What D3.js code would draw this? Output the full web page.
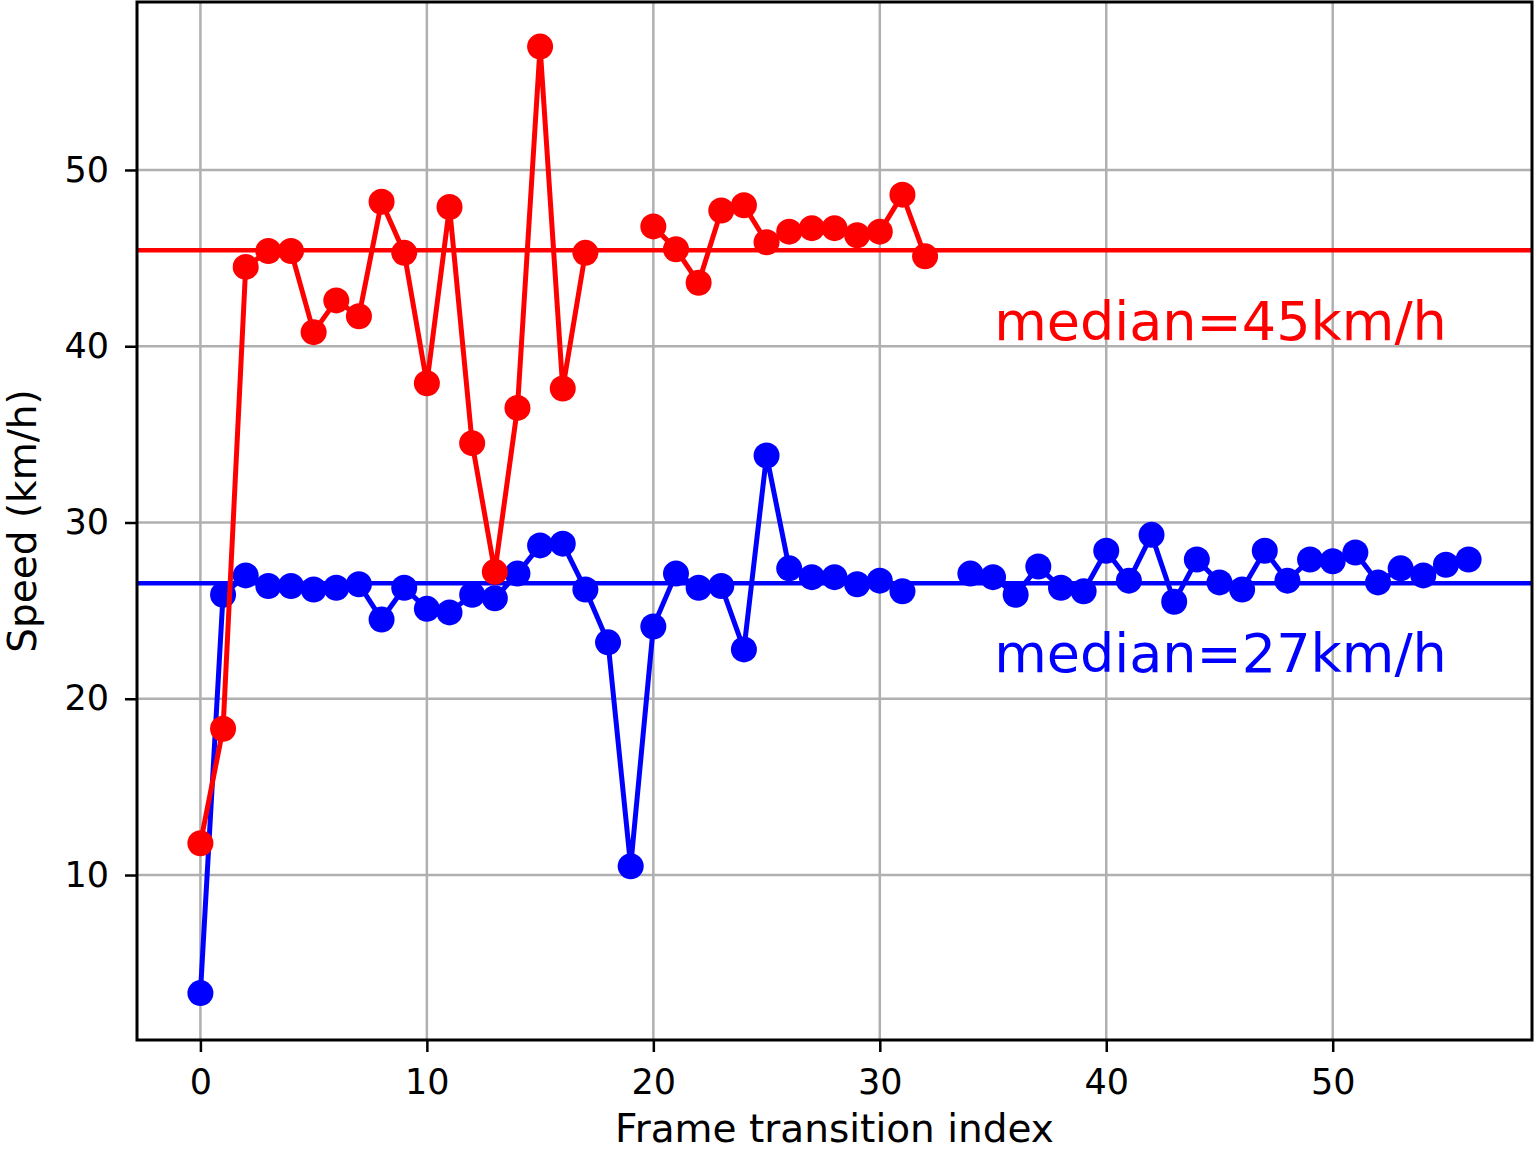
<!DOCTYPE html>
<html>
<head>
<meta charset="utf-8">
<script src="https://cdn.jsdelivr.net/npm/d3@7"></script>
<style>
  body { margin: 0; background: #fff; }
  text { font-family: "DejaVu Sans", sans-serif; }
</style>
</head>
<body>
<div id="chart"></div>
<script>
// speeds per frame transition, null = no measurement
var redSpeeds = [11.8, 18.3, 44.5, 45.4, 45.4, 40.8, 42.6, 41.7, 48.2, 45.3,
                 37.9, 47.9, 34.5, 27.2, 36.5, 57.0, 37.6, 45.3, null, null,
                 46.8, 45.5, 43.6, 47.7, 48.0, 45.9, 46.5, 46.7, 46.7, 46.3,
                 46.5, 48.6, 45.1];
var blueSpeeds = [3.3, 25.9, 27.0, 26.4, 26.4, 26.2, 26.3, 26.5, 24.5, 26.3,
                  25.1, 24.9, 25.9, 25.7, 27.1, 28.7, 28.8, 26.2, 23.2, 10.5,
                  24.1, 27.1, 26.3, 26.4, 22.8, 33.8, 27.4, 26.9, 26.9, 26.5,
                  26.7, 26.1, null, null, 27.1, 26.9, 25.9, 27.5, 26.3, 26.1,
                  28.4, 26.7, 29.3, 25.5, 27.9, 26.6, 26.2, 28.4, 26.7, 27.9,
                  27.8, 28.3, 26.6, 27.4, 27.0, 27.6, 27.9];
var redMedian = 45.45, blueMedian = 26.55;
var medianLabels = ["median=45km/h", "median=27km/h"];
var xTicks = [0, 10, 20, 30, 40, 50];
var yTicks = [10, 20, 30, 40, 50];

var W = 1534, H = 1152;
var margin = {top: 2, right: 2, bottom: 112, left: 137};
var width = W - margin.left - margin.right,
    height = H - margin.top - margin.bottom;

var svg = d3.select("#chart").append("svg")
    .attr("width", W).attr("height", H)
    .style("background", "#fff");

var g = svg.append("g")
    .attr("transform", "translate(" + margin.left + "," + margin.top + ")");

var x = d3.scaleLinear().domain([-2.8, 58.8]).range([0, width]);
var y = d3.scaleLinear().domain([0.64, 59.53]).range([height, 0]);

// grid
g.append("g").selectAll("line").data(xTicks).enter().append("line")
    .attr("x1", d => x(d)).attr("x2", d => x(d))
    .attr("y1", 0).attr("y2", height)
    .attr("stroke", "#b0b0b0").attr("stroke-width", 2.5);
g.append("g").selectAll("line").data(yTicks).enter().append("line")
    .attr("y1", d => y(d)).attr("y2", d => y(d))
    .attr("x1", 0).attr("x2", width)
    .attr("stroke", "#b0b0b0").attr("stroke-width", 2.5);

g.append("clipPath").attr("id", "clip").append("rect")
    .attr("width", width).attr("height", height);
var plot = g.append("g").attr("clip-path", "url(#clip)");

function drawSeries(vals, median, color) {
  var pts = vals.map((v, i) => ({i: i, v: v}));
  var line = d3.line()
      .defined(d => d.v !== null)
      .x(d => x(d.i)).y(d => y(d.v));
  plot.append("path").datum(pts)
      .attr("d", line)
      .attr("fill", "none").attr("stroke", color)
      .attr("stroke-width", 5).attr("stroke-linejoin", "round");
  plot.append("g").selectAll("circle")
      .data(pts.filter(d => d.v !== null)).enter().append("circle")
      .attr("cx", d => x(d.i)).attr("cy", d => y(d.v))
      .attr("r", 13).attr("fill", color);
  plot.append("line")
      .attr("x1", 0).attr("x2", width)
      .attr("y1", y(median)).attr("y2", y(median))
      .attr("stroke", color).attr("stroke-width", 4.5);
}
drawSeries(blueSpeeds, blueMedian, "#0000ff");
drawSeries(redSpeeds, redMedian, "#ff0000");

// median labels
g.append("text").attr("x", x(35.05)).attr("y", 338)
    .attr("fill", "#ff0000").style("font-size", "54px").text(medianLabels[0]);
g.append("text").attr("x", x(35.05)).attr("y", 670)
    .attr("fill", "#0000ff").style("font-size", "54px").text(medianLabels[1]);

// axes
var xAxis = g.append("g").attr("transform", "translate(0," + height + ")")
    .call(d3.axisBottom(x).tickValues(xTicks).tickSize(12).tickPadding(17));
var yAxis = g.append("g")
    .call(d3.axisLeft(y).tickValues(yTicks).tickSize(12).tickPadding(16));
[xAxis, yAxis].forEach(function(a) {
  a.select(".domain").remove();
  a.selectAll("line").attr("stroke", "#000").attr("stroke-width", 2.5);
  a.selectAll("text").style("font-size", "35px")
      .style("font-family", "DejaVu Sans").attr("fill", "#000");
});

// frame
g.append("rect").attr("width", width).attr("height", height)
    .attr("fill", "none").attr("stroke", "#000").attr("stroke-width", 3);

// axis labels
svg.append("text")
    .attr("x", margin.left + width / 2).attr("y", H - 10)
    .attr("text-anchor", "middle").style("font-size", "39px")
    .text("Frame transition index");
svg.append("text")
    .attr("transform", "translate(36," + (margin.top + height / 2) + ") rotate(-90)")
    .attr("text-anchor", "middle").style("font-size", "39px")
    .text("Speed (km/h)");
</script>
</body>
</html>
